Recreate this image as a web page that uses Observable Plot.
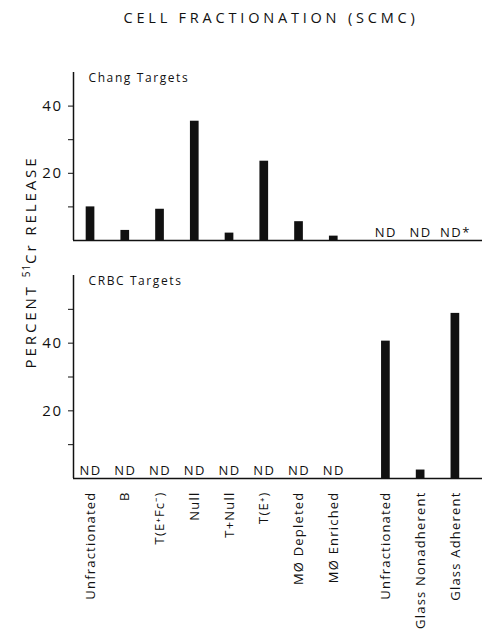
<!DOCTYPE html>
<html>
<head>
<meta charset="utf-8">
<script src="https://cdn.jsdelivr.net/npm/d3@7"></script>
<script src="https://cdn.jsdelivr.net/npm/@observablehq/plot@0.6"></script>
<style>
  html, body { margin: 0; padding: 0; background: #fff; }
  #root { position: relative; width: 482px; height: 629px; overflow: hidden; font-family: "Open Sans", sans-serif; color: #111; background: #fff; }
  #title { position: absolute; left: 0; width: 542px; top: 8px; text-align: center; font-size: 14.5px; letter-spacing: 3.8px; z-index: 2; }
  #ylabel { position: absolute; left: 30px; top: 262px; transform: translate(-50%, -50%) rotate(-90deg); white-space: nowrap; font-size: 15px; letter-spacing: 2.9px; z-index: 2; }
  .panel { position: absolute; left: 0; z-index: 1; }
</style>
</head>
<body>
<div id="root">
  <div id="title">CELL FRACTIONATION (SCMC)</div>
  <div id="ylabel">PERCENT <span style="font-size:10px;position:relative;top:-6px;letter-spacing:1px">51</span>Cr RELEASE</div>
  <div id="p1" class="panel" style="top:60px"></div>
  <div id="p2" class="panel" style="top:260px"></div>
</div>
<script>
const categories = ["Unfractionated", "B", "T(E⁺Fc⁻)", "Null", "T+Null", "T(E⁺)", "MØ Depleted", "MØ Enriched", "Unfractionated", "Glass Nonadherent", "Glass Adherent"];
const groups = [1, 1, 1, 1, 1, 1, 1, 1, 2, 2, 2];
const changRelease = [10, 3, 9.3, 35.5, 2.2, 23.6, 5.6, 1.3, null, null, null];
const changNotes = ["", "", "", "", "", "", "", "", "ND", "ND", "ND*"];
const crbcRelease = [null, null, null, null, null, null, null, null, 40.6, 2.5, 48.8];
const crbcNotes = ["ND", "ND", "ND", "ND", "ND", "ND", "ND", "ND", "", "", ""];
const changTicks = [10, 20, 30, 40];
const crbcTicks = [10, 20, 30, 40, 50];
const labeledTicks = [20, 40];

const rows = categories.map((c, i) => ({
  cat: c,
  slot: i + (groups[i] === 2 ? 0.5 : 0),
  chang: changRelease[i],
  changNote: changNotes[i],
  crbc: crbcRelease[i],
  crbcNote: crbcNotes[i]
}));

const xDomain = [-0.49, 11.28];
const half = 0.125;
const font = "Open Sans, sans-serif";

function panel({key, noteKey, yMax, ticks, title, height, marginTop, marginBottom, withLabels}) {
  const marks = [
    Plot.ruleX([xDomain[0]], {y1: 0, y2: yMax, stroke: "#111", strokeWidth: 1.5}),
    Plot.ruleY([0], {stroke: "#111", strokeWidth: 1.5}),
    Plot.axisY({
      ticks, tickSize: 5, tickPadding: 6, fontSize: 15,
      tickFormat: d => labeledTicks.includes(d) ? String(d) : "",
      label: null, stroke: "#111"
    }),
    Plot.rectY(rows.filter(d => d[key] != null), {
      x1: d => d.slot - half, x2: d => d.slot + half, y1: 0, y2: key, fill: "#111"
    }),
    Plot.text(rows.filter(d => d[noteKey]), {
      x: "slot", y: 0, text: noteKey, dy: -8, fontSize: 13, fill: "#111", className: "nd"
    }),
    Plot.text([title], {frameAnchor: "top-left", dx: 15, dy: 1, fontSize: 12, fill: "#111", textAnchor: "start", lineAnchor: "top", className: "ptitle"})
  ];
  if (withLabels) {
    marks.push(Plot.text(rows, {
      x: "slot", y: 0, text: "cat", rotate: -90, textAnchor: "end", dy: 13, fontSize: 13, fill: "#111", className: "xlab"
    }));
  }
  return Plot.plot({
    width: 482, height, marginLeft: 73, marginRight: 0, marginTop, marginBottom,
    style: {fontFamily: font, background: "transparent", color: "#111", overflow: "visible"},
    x: {type: "linear", domain: xDomain, axis: null},
    y: {domain: [0, yMax], axis: null},
    marks
  });
}

document.getElementById("p1").append(panel({
  key: "chang", noteKey: "changNote", yMax: 50, ticks: changTicks, title: "Chang Targets",
  height: 190, marginTop: 12, marginBottom: 10, withLabels: false
}));
document.getElementById("p2").append(panel({
  key: "crbc", noteKey: "crbcNote", yMax: 60, ticks: crbcTicks, title: "CRBC Targets",
  height: 369, marginTop: 15, marginBottom: 151, withLabels: true
}));
document.querySelectorAll("svg text").forEach(t => t.style.letterSpacing = "1.5px");
document.querySelectorAll(".ptitle text").forEach(t => t.style.letterSpacing = "1.6px");
document.querySelectorAll(".xlab text").forEach(t => t.style.letterSpacing = "1.2px");
</script>
</body>
</html>
